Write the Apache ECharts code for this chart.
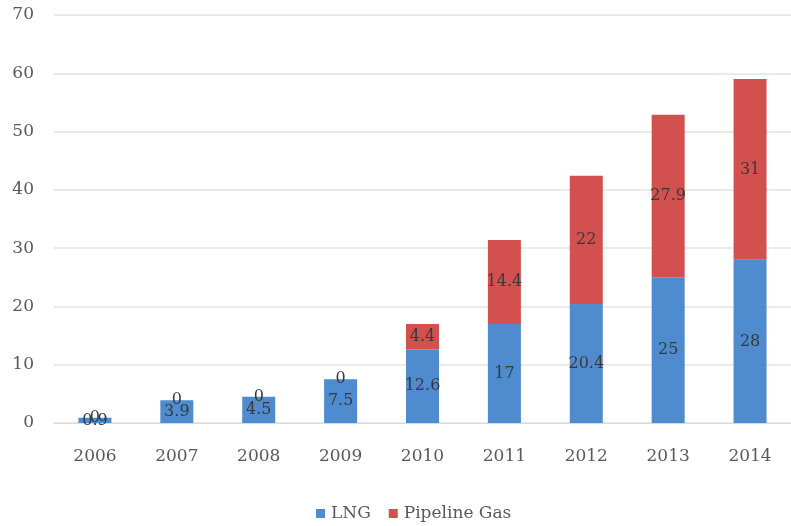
<!DOCTYPE html>
<html><head><meta charset="utf-8">
<script src="https://cdn.jsdelivr.net/npm/echarts@6/dist/echarts.min.js"></script>
<style>html,body{margin:0;padding:0;background:#fff}#c{width:791px;height:526px}</style>
</head><body><div id="c"></div>
<script>
const years = ['2006','2007','2008','2009','2010','2011','2012','2013','2014'];
const lng = [0.9, 3.9, 4.5, 7.5, 12.6, 17, 20.4, 25, 28];
const pipeline = [0, 0, 0, 0, 4.4, 14.4, 22, 27.9, 31];
const yTicks = {min: 0, max: 70, interval: 10};

const font = '"DejaVu Serif", "Liberation Serif", serif';
const chart = echarts.init(document.getElementById('c'));
const lbl = {show: true, position: 'inside', color: '#3a3a3a', fontFamily: font, fontSize: 16};
chart.setOption({
  animation: false,
  textStyle: {fontFamily: font},
  grid: {left: 54, width: 742, top: 15, bottom: 103},
  legend: {
    top: 500, left: 311, itemWidth: 9, itemHeight: 9, itemGap: 18,
    icon: 'rect',
    textStyle: {color: '#595959', fontFamily: font, fontSize: 17, padding: [0, 0, 0, 1]}
  },
  xAxis: {
    type: 'category', data: years,
    axisTick: {show: false},
    axisLine: {lineStyle: {color: '#d9d9d9'}},
    axisLabel: {color: '#595959', fontFamily: font, fontSize: 17, margin: 25}
  },
  yAxis: {
    type: 'value', min: yTicks.min, max: yTicks.max, interval: yTicks.interval,
    axisLabel: {color: '#595959', fontFamily: font, fontSize: 17, margin: 20},
    splitLine: {lineStyle: {color: '#e3e3e3', width: 1.5}},
    axisLine: {show: false}, axisTick: {show: false}
  },
  series: [
    {name: 'LNG', type: 'bar', stack: 'a', data: lng, barWidth: 33,
     itemStyle: {color: '#4F8BCF'}, label: lbl},
    {name: 'Pipeline Gas', type: 'bar', stack: 'a', data: pipeline, barWidth: 33,
     itemStyle: {color: '#D2504D'}, label: lbl}
  ]
});
</script></body></html>
